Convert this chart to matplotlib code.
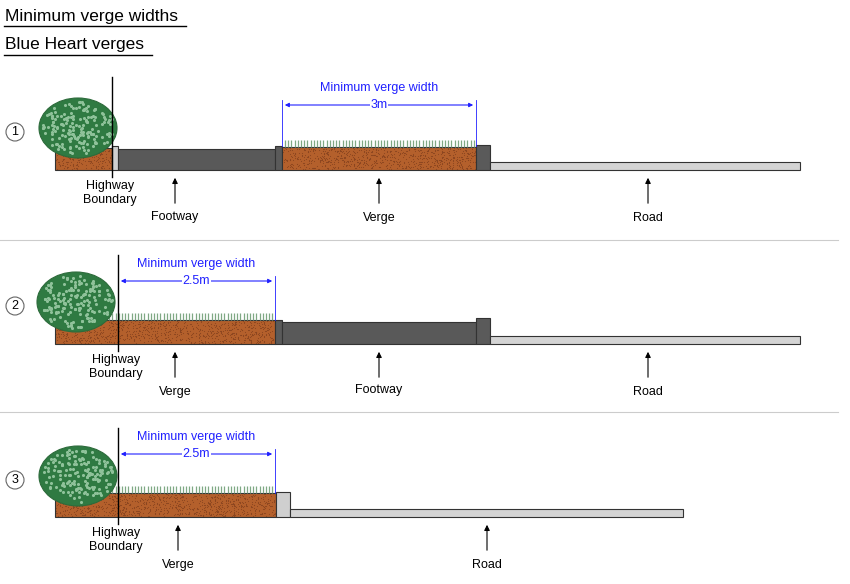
import matplotlib
matplotlib.use("Agg")
import matplotlib.pyplot as plt
from matplotlib.patches import Rectangle, Ellipse, Circle
import numpy as np

titles = ["Minimum verge widths", "Blue Heart verges"]
row_numbers = ["1", "2", "3"]
dim_labels = ["3m", "2.5m", "2.5m"]
arrow_labels = [["Footway", "Verge", "Road"], ["Verge", "Footway", "Road"], ["Verge", "Road"]]
boundary_label = "Highway\nBoundary"

# geometry in pixel units (layout)
base = [170, 344, 517]
segments = [
    [("soil", 55, 112, 22, False), ("lkerb", 112, 118, 24, False), ("foot", 118, 275, 21, False),
     ("kerb", 275, 282, 24, False), ("soil", 282, 476, 23, True), ("kerb", 476, 490, 25, False),
     ("road", 490, 800, 8, False)],
    [("soil", 55, 275, 24, True), ("kerb", 275, 282, 24, False), ("foot", 282, 476, 22, False),
     ("kerb", 476, 490, 26, False), ("road", 490, 800, 8, False)],
    [("soil", 55, 276, 24, True), ("lkerb", 276, 290, 25, False), ("road", 290, 683, 8, False)],
]
colors = {"soil": "#b4602c", "lkerb": "#cfcfcf", "foot": "#595959", "kerb": "#5a5a5a", "road": "#d4d4d4"}
hedge = [(78, 128), (76, 302), (78, 476)]
boundary_x = [112, 118, 118]
boundary_top = [77, 255, 428]
dim_span = [(282, 476), (118, 275), (118, 275)]
dim_y = [105, 281, 454]
arrow_x = [[175, 379, 648], [175, 379, 648], [178, 487]]
arrow_lab_y = [[217, 218, 218], [392, 390, 392], [565, 565]]
sep_y = [240, 412]

fig = plt.figure(figsize=(8.5, 5.84), dpi=100)
ax = fig.add_axes([0, 0, 1, 1])
ax.set_xlim(0, 850)
ax.set_ylim(584, 0)
ax.axis("off")

for t, y, w in zip(titles, [16, 45], [182, 148]):
    ax.text(5, y, t, fontsize=12.5, va="center", ha="left", family="Liberation Sans")
    ax.plot([4, 4 + w], [y + 10, y + 10], color="black", lw=1)

for yy in sep_y:
    ax.plot([0, 838], [yy, yy], color="#cccccc", lw=0.8)

rng = np.random.default_rng(1)
for i in range(3):
    b = base[i]
    for kind, x0, x1, h, grass in segments[i]:
        ax.add_patch(Rectangle((x0, b - h), x1 - x0, h, facecolor=colors[kind],
                               edgecolor="#333333", lw=0.8, zorder=2))
        if kind == "soil":
            n = int((x1 - x0) * h / 6)
            ax.scatter(rng.uniform(x0 + 1, x1 - 1, n), rng.uniform(b - h + 1, b - 1, n),
                       s=0.6, color="#8a4520", zorder=3, lw=0)
        if grass:
            gx = np.arange(x0 + 3, x1 - 2, 3.2)
            ax.vlines(gx, b - h - 7, b - h, color="#7fa884", lw=0.9, zorder=3)
    cx, cy = hedge[i]
    ax.add_patch(Ellipse((cx, cy), 78, 60, facecolor="#2f7a42", edgecolor="#2d6b3b", lw=0.8, zorder=4))
    n = 160
    ang = rng.uniform(0, 2 * np.pi, n); r = np.sqrt(rng.uniform(0, 1, n))
    ax.scatter(cx + 36 * r * np.cos(ang), cy + 27 * r * np.sin(ang), s=5, color="#8fc29a",
               marker="o", lw=0, zorder=5)
    bx = boundary_x[i]
    ax.plot([bx, bx], [boundary_top[i], b + 7], color="black", lw=1, zorder=6)
    ax.text(bx - 2, b + 23, boundary_label, ha="center", va="center", fontsize=9,
            family="Liberation Sans", linespacing=1.3)
    ax.add_patch(Circle((15, cy + 4), 9, facecolor="white", edgecolor="#666666", lw=0.8))
    ax.text(15, cy + 4, row_numbers[i], ha="center", va="center", fontsize=9, family="Liberation Sans")
    d0, d1 = dim_span[i]
    dy = dim_y[i]
    blue = "#2020ff"
    ax.annotate("", xy=(d0, dy), xytext=(d1, dy),
                arrowprops=dict(arrowstyle="<|-|>", color=blue, lw=0.8, mutation_scale=6))
    ax.plot([d0, d0], [dy - 5, b - 24], color=blue, lw=0.6)
    ax.plot([d1, d1], [dy - 5, b - 24], color=blue, lw=0.6)
    ax.text((d0 + d1) / 2, dy - 17, "Minimum verge width", ha="center", va="center",
            fontsize=9, color=blue, family="Liberation Sans")
    ax.text((d0 + d1) / 2, dy, dim_labels[i], ha="center", va="center", fontsize=9,
            color=blue, family="Liberation Sans",
            bbox=dict(facecolor="white", edgecolor="none", pad=0.5))
    for ax_x, lab, ly in zip(arrow_x[i], arrow_labels[i], arrow_lab_y[i]):
        ax.annotate("", xy=(ax_x, b + 5), xytext=(ax_x, b + 36),
                    arrowprops=dict(arrowstyle="-|>", color="black", lw=0.8, mutation_scale=8))
        ax.text(ax_x, ly, lab, ha="center", va="center", fontsize=9, family="Liberation Sans")

fig.savefig("out.png", dpi=100)
